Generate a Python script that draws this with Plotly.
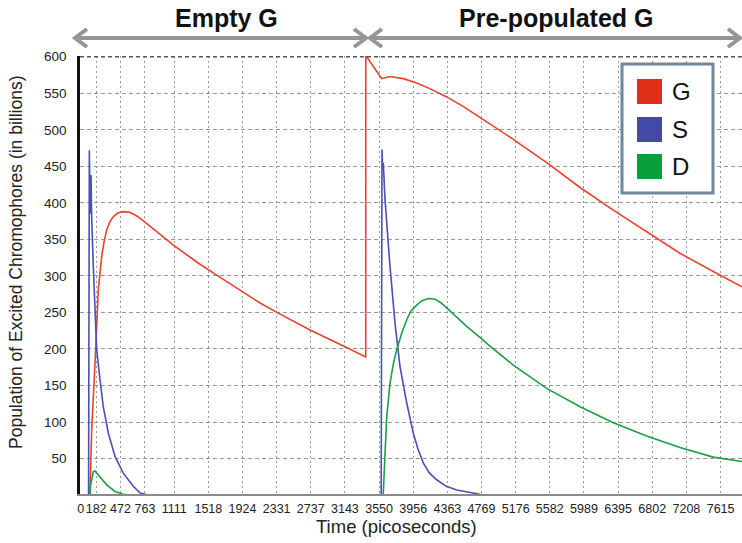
import plotly.graph_objects as go

# ---- data (time in picoseconds, population in billions) ----
time_ticks = [0, 182, 472, 763, 1111, 1518, 1924, 2331, 2737, 3143, 3550,
              3956, 4363, 4769, 5176, 5582, 5989, 6395, 6802, 7208, 7615]
pop_ticks = [50, 100, 150, 200, 250, 300, 350, 400, 450, 500, 550, 600]

g_time = [0, 105, 109, 129, 169, 189, 208, 248, 275, 308, 345, 386, 440, 505,
          585, 680, 784, 900, 1101, 1418, 1617, 1934, 2133, 2350, 2728, 3164,
          3391, 3392, 3403, 3581, 3680, 3838, 3998, 4160, 4355, 4550, 4751,
          5148, 5545, 5943, 6338, 6736, 7131, 7528, 7870]
g_pop = [0, 0, 3, 89, 181, 226, 281, 326, 346, 363, 374, 381, 386, 388,
         387, 381, 372, 361, 342, 316, 301, 277, 263, 249, 226, 202,
         189, 601, 600, 570, 573, 570, 564, 556, 545, 532, 517,
         487, 455, 421, 390, 361, 331, 306, 285]

s_time = [0, 92, 101, 110, 121, 129, 148, 169, 189, 228, 267, 327, 407, 505,
          624, 704, 800, 3575, 3585, 3592, 3600, 3621, 3680, 3740, 3799,
          3879, 3957, 4010, 4076, 4150, 4236, 4350, 4474, 4731, 4800]
s_pop = [0, 0, 472, 385, 438, 381, 313, 249, 199, 158, 121, 85, 53, 30,
         12, 3, 0, 0, 473, 445, 455, 404, 313, 235, 176,
         126, 85, 64, 44, 30, 21, 12, 7, 2, 0]

d_time = [0, 110, 117, 148, 169, 228, 308, 407, 505, 600, 3595, 3600, 3641,
          3680, 3720, 3760, 3820, 3879, 3930, 3998, 4060, 4136, 4220, 4290,
          4355, 4593, 4751, 4870, 5148, 5545, 5943, 6338, 6736, 7131, 7528,
          7870]
d_pop = [0, 0, 14, 32, 33, 25, 14, 5, 1, 0, 0, 3, 107,
         153, 180, 199, 222, 240, 252, 260, 266, 269, 268, 263,
         256, 231, 216, 204, 178, 146, 121, 99, 81, 65, 52,
         46]

series_names = ["G", "S", "D"]
series_colors = ["#e8432e", "#4a50b8", "#1e9e45"]
swatch_colors = ["#df3118", "#4448a6", "#07a03a"]

FONT = "Liberation Sans, Arial, Helvetica, sans-serif"
W, H = 742, 543
L, R, T, B = 80, 742, 56, 494


def xp(x):
    return (x - L) / (R - L)


def yp(y):
    return (B - y) / (B - T)


fig = go.Figure()
for name, tt, vv, col in zip(series_names, [g_time, s_time, d_time],
                             [g_pop, s_pop, d_pop], series_colors):
    fig.add_trace(go.Scatter(x=tt, y=vv, mode="lines", name=name,
                             line=dict(color=col, width=1.6),
                             showlegend=False))

shapes = []
# darker dashed border along the top of the plot
shapes.append(dict(type="line", xref="paper", yref="y", x0=0, x1=1, y0=600, y1=600,
                   line=dict(color="#555555", width=1.5, dash="4px,3px")))

# double-headed arrows above the plot
arrow_col = "#969696"
for a, b in [(75, 366), (370, 740)]:
    y = 38
    shapes.append(dict(type="line", xref="paper", yref="paper",
                       x0=xp(a), x1=xp(b), y0=yp(y), y1=yp(y),
                       line=dict(color=arrow_col, width=4)))
    for tip, arm in [(a, a + 12), (b, b - 12)]:
        path = (f"M {xp(arm)},{yp(y - 9)} L {xp(tip)},{yp(y)} "
                f"L {xp(arm)},{yp(y + 9)}")
        shapes.append(dict(type="path", xref="paper", yref="paper", path=path,
                           line=dict(color=arrow_col, width=4)))

# legend box
shapes.append(dict(type="rect", xref="paper", yref="paper",
                   x0=xp(622), x1=xp(713), y0=yp(193), y1=yp(64),
                   fillcolor="white", line=dict(color="#72869c", width=3)))
legend_rows = [91.5, 129.5, 166.5]
annotations = []
for name, col, yc in zip(series_names, swatch_colors, legend_rows):
    shapes.append(dict(type="rect", xref="paper", yref="paper",
                       x0=xp(637), x1=xp(662), y0=yp(yc + 12.5), y1=yp(yc - 12.5),
                       fillcolor=col, line=dict(width=0)))
    annotations.append(dict(text=name, xref="paper", yref="paper",
                            x=xp(670), y=yp(yc), xanchor="left", yanchor="middle",
                            showarrow=False, font=dict(family=FONT, size=24, color="#111111")))

# section headers
for txt, xc in [("Empty G", 226), ("Pre-populated G", 556)]:
    annotations.append(dict(text=f"<b>{txt}</b>", xref="paper", yref="paper",
                            x=xp(xc), y=yp(18), xanchor="center", yanchor="middle",
                            showarrow=False, font=dict(family=FONT, size=25, color="#111111")))

# axis titles
annotations.append(dict(text="Time (picoseconds)", xref="paper", yref="paper",
                        x=xp(396), y=yp(526), xanchor="center", yanchor="middle",
                        showarrow=False, font=dict(family=FONT, size=18.5, color="#222222")))
annotations.append(dict(text="Population of Excited Chromophores (in billions)",
                        xref="paper", yref="paper", x=xp(16), y=yp(262),
                        xanchor="center", yanchor="middle", textangle=-90,
                        showarrow=False, font=dict(family=FONT, size=17.5, color="#222222")))

fig.update_layout(
    width=W, height=H,
    margin=dict(l=L, r=W - R, t=T, b=H - B, pad=0),
    paper_bgcolor="white", plot_bgcolor="white",
    showlegend=False,
    shapes=shapes, annotations=annotations,
    font=dict(family=FONT, color="#222222"),
)
fig.update_xaxes(range=[-10, 7870], tickmode="array", tickvals=time_ticks,
                 ticktext=[str(v) for v in time_ticks], tickangle=0,
                 showgrid=True, gridcolor="#999999", gridwidth=1, griddash="2px,3px",
                 showline=True, linecolor="#8a8a8a", linewidth=1.5,
                 ticks="", ticklabelstandoff=2,
                 tickfont=dict(size=12.5, color="#222222"),
                 zeroline=False)
fig.update_yaxes(range=[1.5, 601], tickmode="array", tickvals=pop_ticks,
                 showgrid=True, gridcolor="#999999", gridwidth=1, griddash="4px,3px",
                 showline=True, linecolor="#111111", linewidth=2.5,
                 ticks="", ticklabelstandoff=8, tickfont=dict(size=13.5, color="#222222"),
                 zeroline=False)

fig.write_html("out.html")
